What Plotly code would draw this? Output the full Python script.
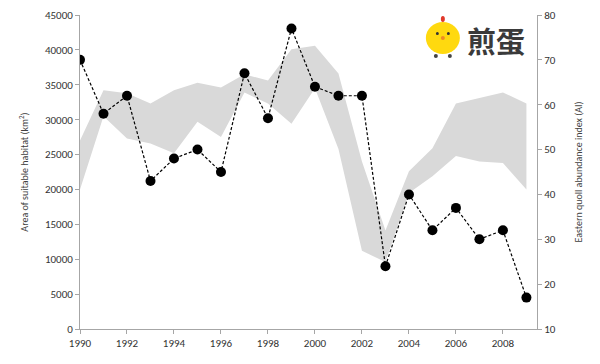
import plotly.graph_objects as go

years = list(range(1990, 2010))
habitat_upper = [27000, 34200, 33800, 32300, 34200, 35300, 34600, 36500, 35600, 40100,
                 40600, 36600, 24000, 14100, 22600, 25900, 32300, 33100, 33900, 32300]
habitat_lower = [20000, 30500, 27300, 26600, 25200, 29700, 27500, 33900, 32300, 29400,
                 34500, 25800, 11200, 9600, 19500, 21900, 24800, 24000, 23800, 20000]
abundance_index = [70, 58, 62, 43, 48, 50, 45, 67, 57, 77,
                   64, 62, 62, 24, 40, 32, 37, 30, 32, 17]

x_ticks = list(range(1990, 2010, 2))

fig = go.Figure()
fig.add_trace(go.Scatter(x=years, y=habitat_upper, mode="lines",
                         line=dict(width=0, color="#d9d9d9"), showlegend=False,
                         hoverinfo="skip"))
fig.add_trace(go.Scatter(x=years, y=habitat_lower, mode="lines", fill="tonexty",
                         fillcolor="#d9d9d9", line=dict(width=0, color="#d9d9d9"),
                         showlegend=False, hoverinfo="skip"))
fig.add_trace(go.Scatter(x=years, y=abundance_index, yaxis="y2", mode="lines+markers",
                         line=dict(color="black", width=1.2, dash="3px,2px"),
                         marker=dict(color="black", size=10),
                         showlegend=False))

axis_font = dict(family="Carlito, Liberation Sans, Arial, sans-serif", size=11, color="#333333")
common = dict(ticks="outside", ticklen=4, tickcolor="#a6a6a6", showline=True,
              linecolor="#a6a6a6", linewidth=1, showgrid=False, zeroline=False,
              tickfont=axis_font, automargin=False)
fig.update_layout(
    width=592, height=356,
    margin=dict(l=72, r=63, t=7, b=35),
    paper_bgcolor="white", plot_bgcolor="white",
    font=axis_font,
    xaxis=dict(range=[1990, 2009.45], tickvals=x_ticks, **common),
    yaxis=dict(range=[0, 45000], dtick=5000, tickformat="d", **common,
               title=dict(text="Area of suitable habitat (km<sup>2</sup>)",
                          font=dict(size=10, color="#404040"), standoff=14)),
    yaxis2=dict(range=[10, 80], dtick=10, overlaying="y", side="right", **common,
                title=dict(text="Eastern quoll abundance index (AI)",
                           font=dict(size=10, color="#404040"), standoff=20)),
)

# watermark (chick + 煎蛋)
cx, cy = 0.794, 0.93
def blob(dx0, dx1, dy0, dy1, color):
    fig.add_shape(type="circle", xref="paper", yref="paper",
                  xsizemode="pixel", ysizemode="pixel", xanchor=cx, yanchor=cy,
                  x0=dx0, x1=dx1, y0=dy0, y1=dy1,
                  fillcolor=color, line=dict(width=0), layer="above")
blob(-17, 17, -17, 15, "#ffd90f")      # body
blob(-2, 2, 15, 21, "#e0392b")         # comb
blob(-7, -4, 2, 5, "#333333")          # eye
blob(4, 7, 2, 5, "#333333")            # eye
blob(-2, 2, -3, 1, "#f08a24")          # beak
blob(-9, -5, -21, -17, "#444444")      # foot
blob(5, 9, -21, -17, "#444444")        # foot
fig.add_annotation(text="<b>煎蛋</b>", xref="paper", yref="paper", x=0.843, y=0.92,
                   xanchor="left", yanchor="middle", showarrow=False,
                   font=dict(family="Noto Sans CJK SC", size=29, color="#3a3a3a"))

fig.write_html("out.html")
